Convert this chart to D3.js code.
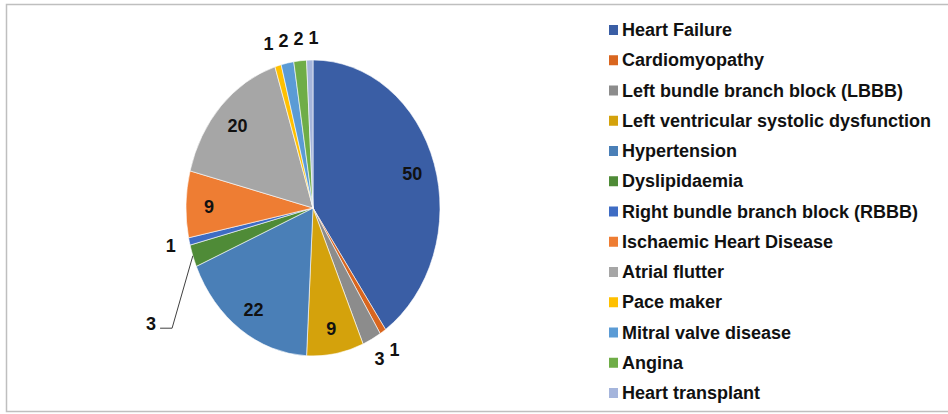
<!DOCTYPE html>
<html>
<head>
<meta charset="utf-8">
<script src="https://cdnjs.cloudflare.com/ajax/libs/d3/7.8.5/d3.min.js"></script>
<style>
  html, body { margin: 0; padding: 0; background: #fff; }
  svg { display: block; }
  text { font-family: "Liberation Sans", Arial, sans-serif; fill: #111; font-weight: bold; }
</style>
</head>
<body>
<svg id="chart" width="948" height="414"></svg>
<script>
// ---- data ----
const categories = [
  "Heart Failure",
  "Cardiomyopathy",
  "Left bundle branch block (LBBB)",
  "Left ventricular systolic dysfunction",
  "Hypertension",
  "Dyslipidaemia",
  "Right bundle branch block (RBBB)",
  "Ischaemic Heart Disease",
  "Atrial flutter",
  "Pace maker",
  "Mitral valve disease",
  "Angina",
  "Heart transplant"
];
const values = [50, 1, 3, 9, 22, 3, 1, 9, 20, 1, 2, 2, 1];
const colors = [
  "#3a5ea5", "#d9661f", "#8c8c8c", "#d4a20c", "#4a7fb7", "#4f8b37",
  "#3e6cc4", "#ee7d33", "#a6a6a6", "#ffc000", "#5b9bd5", "#6fad47", "#a5b5dc"
];

// ---- layout ----
const svg = d3.select("#chart");
const W = 948, H = 414;
const cx = 313, cy = 208, rx = 127, ry = 148;

// frame
svg.append("rect")
  .attr("x", 6.5).attr("y", 4.5).attr("width", W - 4).attr("height", 407)
  .attr("fill", "none").attr("stroke", "#bfbfbf").attr("stroke-width", 1.5);

const pie = d3.pie().value(d => d).sort(null).startAngle(0).endAngle(2 * Math.PI);
const arcs = pie(values);
const arc = d3.arc().innerRadius(0).outerRadius(ry);

const g = svg.append("g")
  .attr("transform", `translate(${cx},${cy}) scale(${rx / ry},1)`);

g.selectAll("path.slice")
  .data(arcs)
  .join("path")
  .attr("class", "slice")
  .attr("d", arc)
  .attr("fill", (d, i) => colors[i])
  .attr("stroke", "#ffffff")
  .attr("stroke-width", 0.6)
  .attr("vector-effect", "non-scaling-stroke");

// point on the (elliptical) pie at angle a and radius factor f
const pt = (a, f) => [cx + rx * f * Math.sin(a), cy - ry * f * Math.cos(a)];

const labelG = svg.append("g");
const leaderIndex = 5; // Dyslipidaemia label moved out with a leader line
const labels = [];
arcs.forEach((d, i) => {
  const mid = (d.startAngle + d.endAngle) / 2;
  if (i === leaderIndex) {
    const p0 = pt(mid, 1.0);
    const aL = 233.8 * Math.PI / 180;
    const p1 = pt(aL, 1.375);
    labelG.append("path")
      .attr("d", `M${p0[0]},${p0[1]}L${p1[0]},${p1[1]}L${p1[0] - 12},${p1[1]}`)
      .attr("fill", "none").attr("stroke", "#404040").attr("stroke-width", 1);
    labels.push({ i, x: p1[0] - 21, y: p1[1] - 4, outside: false });
    return;
  }
  const inside = values[i] >= 9;
  const f = inside ? 0.82 : 1.15;
  const p = pt(mid, f);
  labels.push({ i, x: p[0], y: p[1] + (inside ? 2 : 0), outside: !inside });
});

// spread clusters of small outside labels apart horizontally
const outs = labels.filter(l => l.outside);
const clusters = [];
outs.forEach(l => {
  const last = clusters.length ? clusters[clusters.length - 1] : null;
  const prev = last ? last[last.length - 1] : null;
  if (prev && Math.hypot(l.x - prev.x, l.y - prev.y) < 16) last.push(l);
  else clusters.push([l]);
});
const gap = 15;
clusters.forEach(c => {
  if (c.length < 2) return;
  c.sort((a, b) => a.x - b.x);
  const mean = d3.mean(c, l => l.x);
  c.forEach((l, k) => { l.x = mean + (k - (c.length - 1) / 2) * gap; });
});

labelG.selectAll("text.val")
  .data(labels)
  .join("text")
  .attr("class", "val")
  .attr("x", d => d.x).attr("y", d => d.y)
  .attr("text-anchor", "middle").attr("dominant-baseline", "central")
  .attr("font-size", 18)
  .text(d => values[d.i]);

// ---- legend ----
const lx = 609, ly0 = 30, step = 30.25;
const leg = svg.append("g");
categories.forEach((c, i) => {
  const y = ly0 + i * step;
  leg.append("rect")
    .attr("x", lx).attr("y", y - 5).attr("width", 9).attr("height", 10)
    .attr("fill", colors[i]);
  leg.append("text")
    .attr("x", lx + 13).attr("y", y)
    .attr("dominant-baseline", "central")
    .attr("font-size", 18)
    .text(c);
});
</script>
</body>
</html>
